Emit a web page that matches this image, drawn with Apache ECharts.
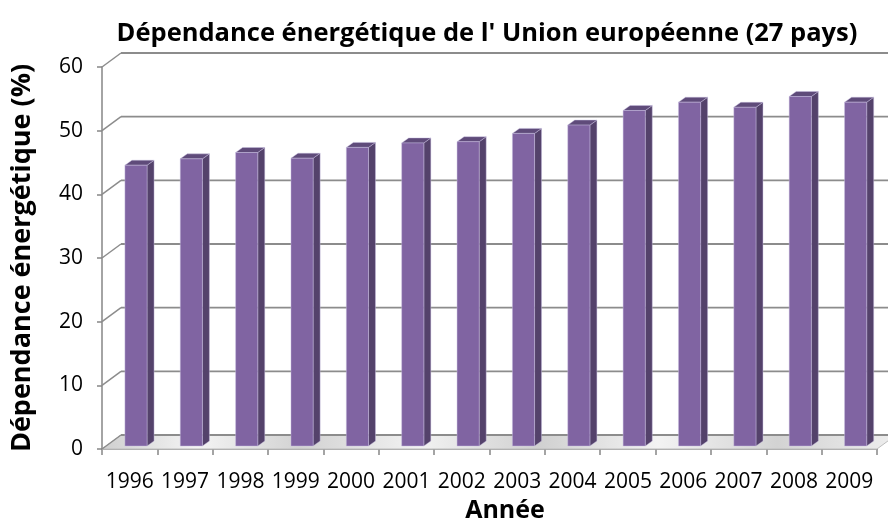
<!DOCTYPE html>
<html>
<head>
<meta charset="utf-8">
<script src="https://cdn.jsdelivr.net/npm/echarts@6/dist/echarts.min.js"></script>
<style>html,body{margin:0;padding:0;background:#fff}#c{width:888px;height:519px}</style>
</head>
<body>
<div id="c"></div>
<script>
const years = ['1996','1997','1998','1999','2000','2001','2002','2003','2004','2005','2006','2007','2008','2009'];
const dependance = [44.1, 45.1, 46.1, 45.2, 46.9, 47.6, 47.8, 49.1, 50.4, 52.7, 54.0, 53.2, 54.9, 54.0];
const yTicks = [0, 10, 20, 30, 40, 50, 60];

const DX = 19, DY = -14;      // depth of the 3D box (back wall offset)
const BX = 6.3, BY = -3;      // front plane of the columns
const SX = 7, SY = -5;        // column depth
const FONT = '"Open Sans", "Noto Sans", sans-serif';

const chart = echarts.init(document.getElementById('c'), null, {renderer: 'canvas'});

function wallItem(params, api) {
  const cs = params.coordSys;
  const v = api.value(1);
  const y = api.coord([0, v])[1];
  const x0 = cs.x, x1 = cs.x + cs.width;
  const children = [];
  if (v === 0) {
    children.push({
      type: 'polygon',
      shape: {points: [[x0, y], [x1, y], [x1 + DX, y + DY], [x0 + DX, y + DY]]},
      style: {
        fill: new echarts.graphic.LinearGradient(0, 0, 1, 0, [
          {offset: 0, color: '#cfcfcf'}, {offset: 0.12, color: '#f4f4f4'},
          {offset: 0.25, color: '#d2d2d2'}, {offset: 0.4, color: '#f2f2f2'},
          {offset: 0.55, color: '#d0d0d0'}, {offset: 0.7, color: '#f3f3f3'},
          {offset: 0.85, color: '#d3d3d3'}, {offset: 1, color: '#eeeeee'}
        ]),
        stroke: '#bdbdbd', lineWidth: 1
      }
    });
  }
  children.push({
    type: 'line',
    shape: {x1: x0, y1: y, x2: x0 + DX, y2: y + DY},
    style: {stroke: '#8c8c8c', lineWidth: 1.5}
  });
  children.push({
    type: 'line',
    shape: {x1: x0 + DX, y1: y + DY, x2: x1 + DX, y2: y + DY},
    style: {stroke: '#8c8c8c', lineWidth: 1.8}
  });
  return {type: 'group', children: children};
}

function barItem(params, api) {
  const i = api.value(0), v = api.value(1);
  const c0 = api.coord([i, 0]);
  const c1 = api.coord([i, v]);
  const bw = api.size([1, 0])[0] * 0.4;
  const xL = c0[0] - bw / 2 + BX, xR = c0[0] + bw / 2 + BX;
  const yB = c0[1] + BY, yT = c1[1] + BY;
  const edge = {stroke: 'rgba(200,190,225,0.55)', lineWidth: 0.8};
  return {
    type: 'group',
    children: [
      {type: 'polygon', shape: {points: [[xR, yT], [xR + SX, yT + SY], [xR + SX, yB + SY], [xR, yB]]},
       style: Object.assign({fill: '#54426b'}, edge)},
      {type: 'polygon', shape: {points: [[xL, yT], [xR, yT], [xR + SX, yT + SY], [xL + SX, yT + SY]]},
       style: Object.assign({fill: '#5f4b7a'}, edge)},
      {type: 'rect', shape: {x: xL, y: yT, width: xR - xL, height: yB - yT},
       style: Object.assign({fill: '#8064a2'}, edge)}
    ]
  };
}

chart.setOption({
  animation: false,
  backgroundColor: '#ffffff',
  title: {
    text: "Dépendance énergétique de l' Union européenne (27 pays)",
    left: 482, top: 16, textAlign: 'center',
    textStyle: {fontFamily: FONT, fontSize: 25.5, fontWeight: 'bold', color: '#000'}
  },
  grid: {left: 102, right: 11, top: 67, bottom: 70, containLabel: false, outerBoundsMode: 'none'},
  xAxis: {
    type: 'category',
    data: years,
    name: 'Année',
    nameLocation: 'middle',
    nameGap: 46,
    nameTextStyle: {fontFamily: FONT, fontSize: 25, fontWeight: 'bold', color: '#000', padding: [0, 0, 0, 31]},
    axisLine: {show: true, lineStyle: {color: '#868686', width: 1.5}},
    axisTick: {show: true, length: 6, interval: 0, lineStyle: {color: '#868686', width: 1.5}},
    axisLabel: {fontFamily: FONT, fontSize: 21, color: '#000', margin: 23, interval: 0},
    splitLine: {show: false}
  },
  yAxis: {
    type: 'value',
    min: 0, max: 60, interval: 10,
    name: 'Dépendance énergétique (%)',
    nameLocation: 'middle',
    nameRotate: 90,
    nameGap: 66,
    nameTextStyle: {fontFamily: FONT, fontSize: 27, fontWeight: 'bold', color: '#000'},
    axisLine: {show: true, lineStyle: {color: '#868686', width: 1.5}},
    axisTick: {show: true, length: 5, lineStyle: {color: '#868686', width: 1.5}},
    axisLabel: {fontFamily: FONT, fontSize: 21, color: '#000', margin: 19},
    splitLine: {show: false}
  },
  series: [
    {
      type: 'custom',
      name: 'wall',
      renderItem: wallItem,
      data: yTicks.map(v => [0, v]),
      silent: true,
      clip: false,
      z: 1
    },
    {
      type: 'custom',
      name: 'Dépendance énergétique',
      renderItem: barItem,
      data: dependance.map((v, i) => [i, v]),
      clip: false,
      z: 2
    }
  ]
});
</script>
</body>
</html>
